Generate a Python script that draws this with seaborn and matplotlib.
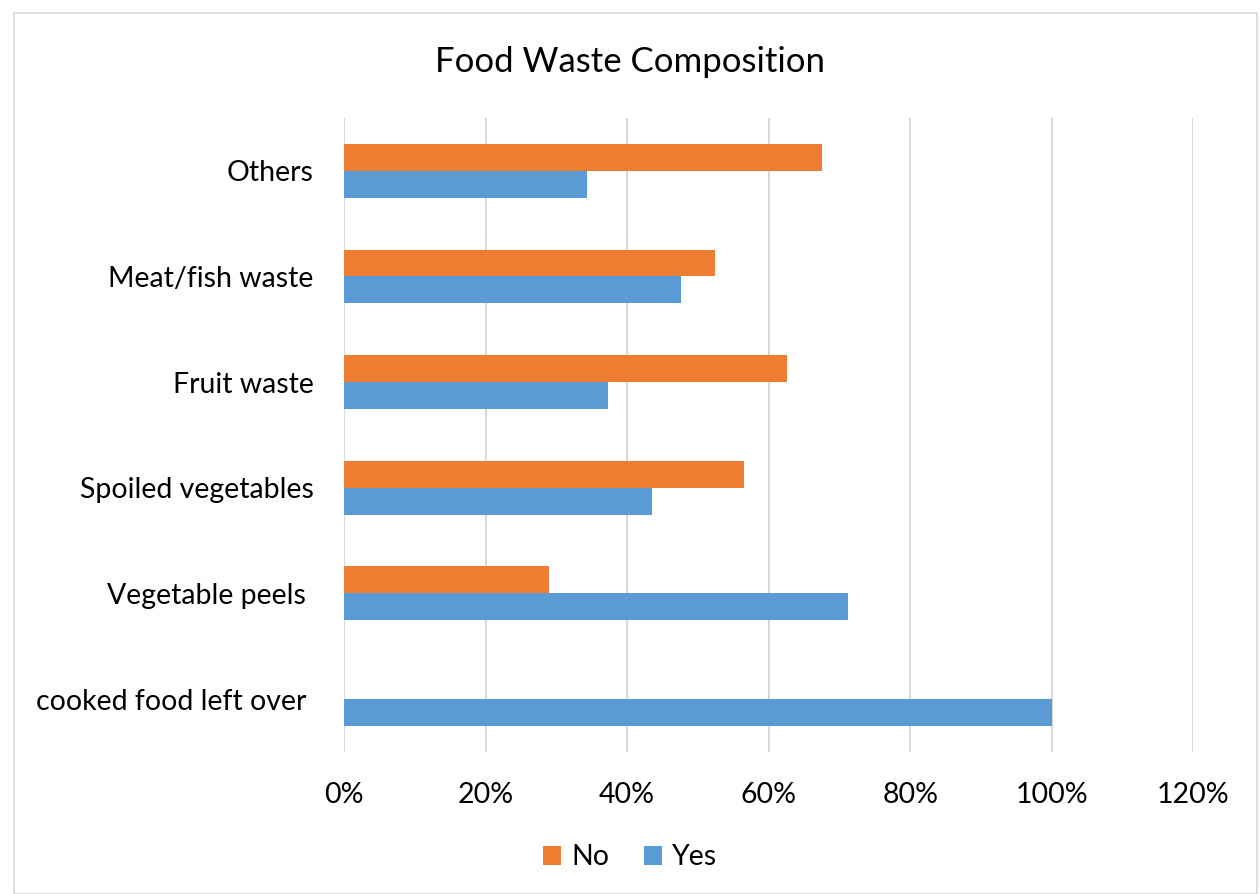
import pandas as pd
import matplotlib.pyplot as plt
import seaborn as sns
from matplotlib.patches import Rectangle
from matplotlib.ticker import PercentFormatter

categories = ["Others", "Meat/fish waste", "Fruit waste", "Spoiled vegetables",
              "Vegetable peels ", "cooked food left over "]
no_values = [67.6, 52.4, 62.6, 56.5, 29.0, 0.0]
yes_values = [34.4, 47.6, 37.3, 43.5, 71.2, 100.0]
series = ["No", "Yes"]
colors = {"No": "#ED7D31", "Yes": "#5B9BD5"}

df = pd.DataFrame({
    "category": categories * 2,
    "answer": ["No"] * len(categories) + ["Yes"] * len(categories),
    "value": no_values + yes_values,
})

sns.set_style("white")
plt.rcParams["font.family"] = ["Lato", "DejaVu Sans"]
plt.rcParams["text.color"] = "black"

fig = plt.figure(figsize=(12.6, 8.94), dpi=100)
ax = fig.add_axes([0.273, 0.159, 0.674, 0.709])

sns.barplot(data=df, y="category", x="value", hue="answer", order=categories,
            hue_order=series, palette=colors, orient="h", width=0.51,
            saturation=1, linewidth=0, ax=ax, legend=True)

ax.set_xlim(0, 120)
ax.set_xticks(range(0, 121, 20))
ax.xaxis.set_major_formatter(PercentFormatter(decimals=0))
ax.grid(axis="x", color="#d9d9d9", linewidth=1.5)
ax.set_axisbelow(True)
for s in ax.spines.values():
    s.set_visible(False)
ax.set_xlabel("")
ax.set_ylabel("")
ax.tick_params(axis="both", length=0, labelsize=20.5, colors="#000000")
ax.tick_params(axis="y", pad=22)
ax.tick_params(axis="x", pad=22)

fig.suptitle("Food Waste Composition", fontsize=25, y=0.948, color="black")

handles, labels = ax.get_legend_handles_labels()
ax.legend_.remove()
fig.legend(handles, labels, loc="center", bbox_to_anchor=(0.5, 0.041), ncol=2,
           frameon=False, fontsize=20.5, handlelength=0.65, handleheight=0.65,
           columnspacing=1.2, handletextpad=0.35)

fig.patches.append(Rectangle((0.011, 0.0), 0.987, 0.985, transform=fig.transFigure,
                             fill=False, edgecolor="#d9d9d9", linewidth=1.2))

fig.savefig("out.png", dpi=100)
